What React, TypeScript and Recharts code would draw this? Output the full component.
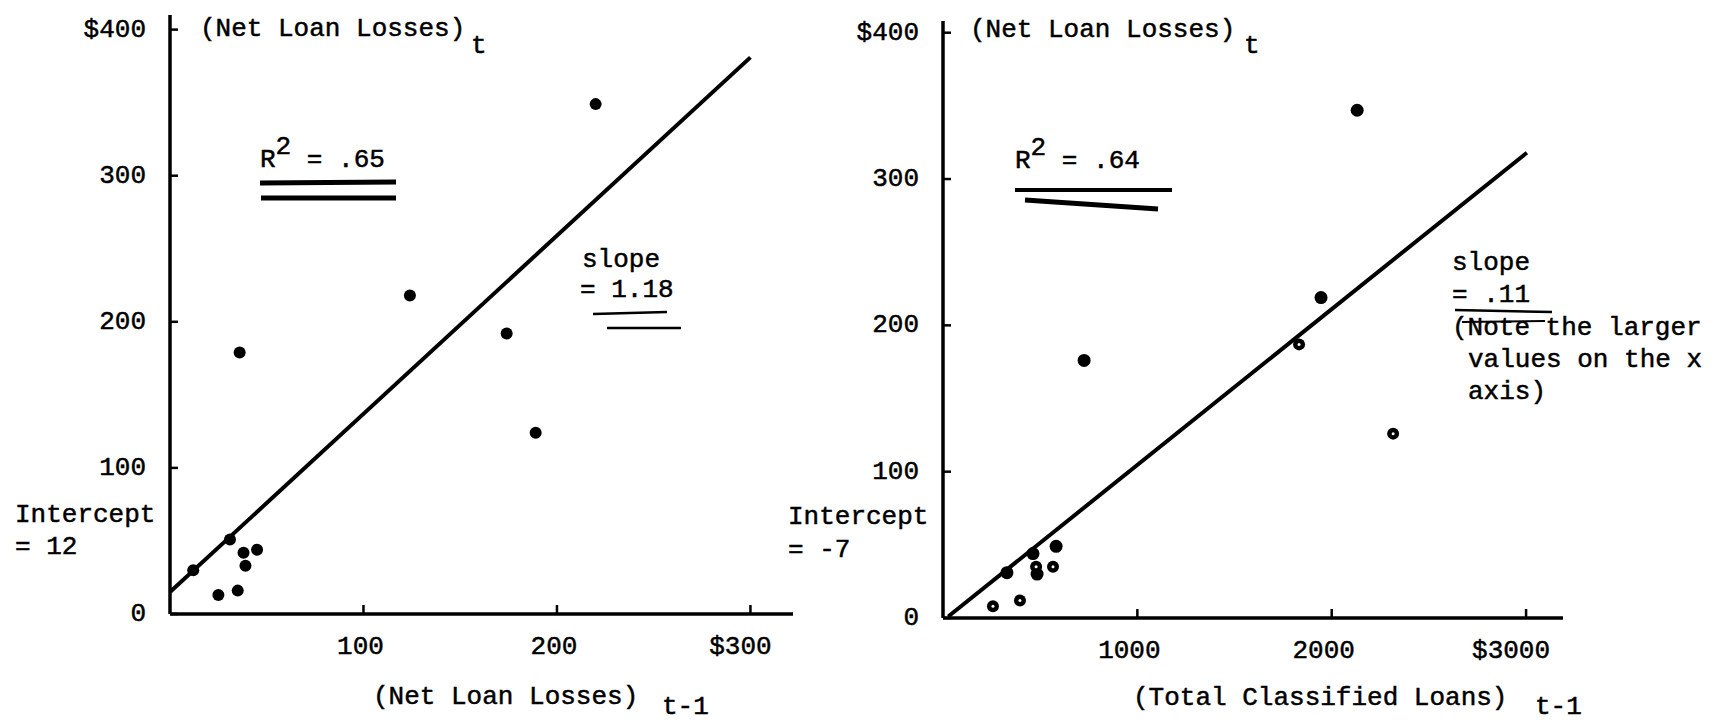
import React from 'react';
import { ScatterChart, Scatter, XAxis, YAxis, ReferenceLine } from 'recharts';

// ---------- data ----------
const leftX = [36, 124, 220, 174, 189, 12, 25, 35, 39, 38, 31, 45];
const leftY = [179, 218, 349, 192, 124, 30, 13, 16, 33, 42, 51, 44];
const leftFitX = [0, 300];
const leftFitY = [15, 381];

const rightSolidX = [726, 2131, 1945, 329, 463, 484, 582];
const rightSolidY = [176, 347, 219, 31, 44, 30, 49];
const rightRingX = [257, 396, 479, 566, 1832, 2316];
const rightRingY = [8, 12, 35, 35, 187, 126];
const rightFitX = [27, 3004];
const rightFitY = [1, 318];

const yTicks = [0, 100, 200, 300, 400];
const yTickLabels = ['0', '100', '200', '300', '$400'];
const leftXTicks = [100, 200, 300];
const leftXTickLabels = ['100', '200', '$300'];
const rightXTicks = [1000, 2000, 3000];
const rightXTickLabels = ['1000', '2000', '$3000'];

const FONT = '"Liberation Mono", "DejaVu Sans Mono", monospace';
const FS = 26;

const toPts = (xs: number[], ys: number[]) => xs.map((x, i) => ({ x, y: ys[i] }));
const leftPts = toPts(leftX, leftY);
const rightSolid = toPts(rightSolidX, rightSolidY);
const rightRing = toPts(rightRingX, rightRingY);

const labelFor = (ticks: number[], labels: string[], v: number) => {
  const i = ticks.indexOf(v);
  return i >= 0 ? labels[i] : String(v);
};

const YTick = (props: any) => {
  const { x, y, payload } = props;
  return (
    <g>
      <line x1={x} x2={x + 8} y1={y} y2={y} stroke="#000" strokeWidth={2.5} />
      <text x={x - 24} y={y} textAnchor="end" dominantBaseline="central" fontFamily={FONT} fontSize={FS} fill="#000" stroke="#000" strokeWidth={0.5}>
        {labelFor(yTicks, yTickLabels, payload.value)}
      </text>
    </g>
  );
};

const makeXTick = (ticks: number[], labels: string[], dx: number) => (props: any) => {
  const { x, y, payload } = props;
  const lab = labelFor(ticks, labels, payload.value);
  const extra = lab.startsWith('$') ? -7 : 0;
  return (
    <g>
      <line x1={x} x2={x} y1={y} y2={y - 9} stroke="#000" strokeWidth={2.5} />
      <text x={x + dx + extra} y={y + 33} textAnchor="middle" dominantBaseline="central" fontFamily={FONT} fontSize={FS} fill="#000" stroke="#000" strokeWidth={0.5}>
        {lab}
      </text>
    </g>
  );
};

const SolidDot = (r: number) => (props: any) => <circle cx={props.cx} cy={props.cy} r={r} fill="#000" />;
const RingDot = (props: any) => (
  <g>
    <circle cx={props.cx} cy={props.cy} r={6} fill="#000" />
    <circle cx={props.cx} cy={props.cy} r={1.5} fill="#fff" />
  </g>
);

const axisLine = { stroke: '#000', strokeWidth: 3.5 };

const T = (p: any) => (
  <text fontFamily={FONT} fontSize={FS} fill="#000" stroke="#000" strokeWidth={0.5} dominantBaseline="central" {...p} />
);

export default function App() {
  return (
    <div style={{ position: 'absolute', left: 0, top: 0, width: 1714, height: 724, background: '#fff', overflow: 'hidden' }}>
      <div style={{ position: 'absolute', left: 0, top: 0 }}>
        <ScatterChart width={857} height={724} margin={{ top: 15, right: 64, bottom: 70, left: 110 }}>
          <XAxis type="number" dataKey="x" domain={[0, 322]} ticks={leftXTicks} interval={0} allowDataOverflow
            height={40} tickSize={0} tickMargin={0} tickLine={false} axisLine={axisLine}
            tick={makeXTick(leftXTicks, leftXTickLabels, -3)} />
          <YAxis type="number" dataKey="y" domain={[0, 410]} ticks={yTicks} interval={0} allowDataOverflow
            width={60} tickSize={0} tickMargin={0} tickLine={false} axisLine={axisLine} tick={YTick} />
          <ReferenceLine segment={[{ x: leftFitX[0], y: leftFitY[0] }, { x: leftFitX[1], y: leftFitY[1] }]}
            stroke="#000" strokeWidth={4} ifOverflow="visible" />
          <Scatter data={leftPts} shape={SolidDot(6)} isAnimationActive={false} />
        </ScatterChart>
      </div>
      <div style={{ position: 'absolute', left: 857, top: 0 }}>
        <ScatterChart width={857} height={724} margin={{ top: 21, right: 151, bottom: 66, left: 26 }}>
          <XAxis type="number" dataKey="x" domain={[0, 3190]} ticks={rightXTicks} interval={0} allowDataOverflow
            height={40} tickSize={0} tickMargin={0} tickLine={false} axisLine={axisLine}
            tick={makeXTick(rightXTicks, rightXTickLabels, -8)} />
          <YAxis type="number" dataKey="y" domain={[0, 408]} ticks={yTicks} interval={0} allowDataOverflow
            width={60} tickSize={0} tickMargin={0} tickLine={false} axisLine={axisLine} tick={YTick} />
          <ReferenceLine segment={[{ x: rightFitX[0], y: rightFitY[0] }, { x: rightFitX[1], y: rightFitY[1] }]}
            stroke="#000" strokeWidth={4} ifOverflow="visible" />
          <Scatter data={rightSolid} shape={SolidDot(6.5)} isAnimationActive={false} />
          <Scatter data={rightRing} shape={RingDot} isAnimationActive={false} />
        </ScatterChart>
      </div>
      <svg width={1714} height={724} style={{ position: 'absolute', left: 0, top: 0, pointerEvents: 'none' }}>
        {/* left panel annotations */}
        <T x={200} y={29}>(Net Loan Losses)</T>
        <T x={471} y={46}>t</T>
        <T x={260} y={160}>R<tspan dy={-13}>2</tspan><tspan dy={13}> = .65</tspan></T>
        <line x1={260} y1={183} x2={396} y2={182} stroke="#000" strokeWidth={5} />
        <line x1={261} y1={198} x2={396} y2={198} stroke="#000" strokeWidth={5} />
        <T x={582} y={260}>slope</T>
        <T x={580} y={290}>= 1.18</T>
        <line x1={593} y1={314} x2={667} y2={312} stroke="#000" strokeWidth={2.5} />
        <line x1={607} y1={328} x2={681} y2={328} stroke="#000" strokeWidth={2.5} />
        <T x={15} y={515}>Intercept</T>
        <T x={15} y={547}>= 12</T>
        <T x={373} y={697}>(Net Loan Losses)</T>
        <T x={662} y={707}>t-1</T>

        {/* right panel annotations */}
        <T x={970} y={30}>(Net Loan Losses)</T>
        <T x={1244} y={46}>t</T>
        <T x={1015} y={161}>R<tspan dy={-13}>2</tspan><tspan dy={13}> = .64</tspan></T>
        <line x1={1015} y1={190} x2={1172} y2={190} stroke="#000" strokeWidth={4} />
        <line x1={1025} y1={200} x2={1158} y2={209} stroke="#000" strokeWidth={5} />
        <T x={1452} y={263}>slope</T>
        <T x={1452} y={295}>= .11</T>
        <line x1={1455} y1={310} x2={1552} y2={312} stroke="#000" strokeWidth={2.5} />
        <line x1={1462} y1={322} x2={1545} y2={321} stroke="#000" strokeWidth={2} />
        <T x={1452} y={328}>(Note the larger</T>
        <T x={1468} y={360}>values on the x</T>
        <T x={1468} y={392}>axis)</T>
        <T x={788} y={517}>Intercept</T>
        <T x={788} y={550}>= -7</T>
        <T x={1133} y={698}>(Total Classified Loans)</T>
        <T x={1535} y={707}>t-1</T>
      </svg>
    </div>
  );
}
